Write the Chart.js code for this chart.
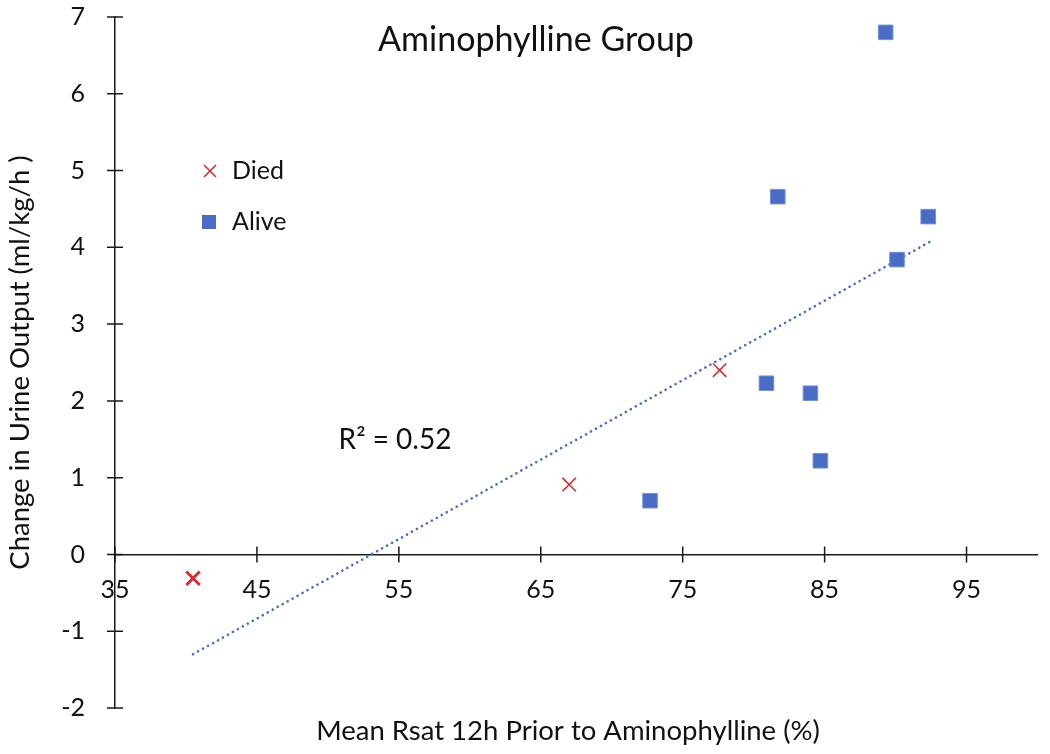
<!DOCTYPE html>
<html>
<head>
<meta charset="utf-8">
<script src="https://cdn.jsdelivr.net/npm/chart.js@4"></script>
<style>
html,body{margin:0;padding:0;background:#fff;}
#wrap{width:1050px;height:754px;}
</style>
</head>
<body>
<div id="wrap"><canvas id="myChart"></canvas></div>
<script>
//data
const diedX = [40.5, 67.0, 77.6];
const diedY = [-0.31, 0.91, 2.40];
const aliveX = [72.7, 80.9, 84.0, 84.7, 81.7, 89.3, 90.1, 92.3];
const aliveY = [0.70, 2.23, 2.10, 1.22, 4.66, 6.80, 3.84, 4.40];
const trendX = [40.5, 92.4];
const trendY = [-1.30, 4.07];
const xTicks = [35, 45, 55, 65, 75, 85, 95];
const yTicks = [-2, -1, 0, 1, 2, 3, 4, 5, 6, 7];

const RED = '#d0302f';
const BLUE = '#4a6cc4';
const FONT = 'Lato';

const toPoints = (xs, ys) => xs.map((v, i) => ({x: v, y: ys[i]}));

//setup
const data = {
  datasets: [
    {
      label: 'Died',
      data: toPoints(diedX, diedY),
      pointStyle: 'crossRot',
      pointRadius: 9.5,
      borderColor: RED,
      backgroundColor: RED,
      pointBorderWidth: ctx => ctx.dataIndex === 0 ? 3 : 1.6,
    },
    {
      label: 'Alive',
      data: toPoints(aliveX, aliveY),
      pointStyle: 'rect',
      pointRadius: 10.3,
      backgroundColor: BLUE,
      borderColor: '#7391d8',
      pointBorderWidth: 1,
    },
    {
      type: 'line',
      label: 'Trend',
      data: toPoints(trendX, trendY),
      borderColor: BLUE,
      borderWidth: 2.6,
      borderDash: [0.1, 5.6],
      borderCapStyle: 'round',
      pointRadius: 0,
      fill: false,
    }
  ]
};

// tick crosses on both axes, texts inside the plot, x title
const extras = {
  id: 'extras',
  afterDraw(chart) {
    const {ctx, scales: {x, y}} = chart;
    const y0 = y.getPixelForValue(0);
    const x0 = x.getPixelForValue(35);
    ctx.save();
    ctx.strokeStyle = '#1a1a1a';
    ctx.lineWidth = 1.5;
    ctx.beginPath();
    xTicks.forEach(v => {
      const px = x.getPixelForValue(v);
      ctx.moveTo(px, y0 - 8); ctx.lineTo(px, y0 + 8);
    });
    yTicks.forEach(v => {
      const py = y.getPixelForValue(v);
      ctx.moveTo(x0 - 8, py); ctx.lineTo(x0 + 8, py);
    });
    ctx.stroke();

    const L = chart.chartArea.left, T = chart.chartArea.top;
    ctx.fillStyle = '#111';
    ctx.textBaseline = 'middle';
    ctx.textAlign = 'center';
    ctx.font = '34px ' + FONT;
    ctx.fillText('Aminophylline Group', L + 421, T + 23);
    ctx.font = '28px ' + FONT;
    ctx.fillText('R² = 0.52', L + 280, T + 423);
    ctx.font = '27.5px ' + FONT;
    ctx.fillText('Mean Rsat 12h Prior to Aminophylline (%)', 568, 731);

    // legend
    ctx.textAlign = 'left';
    ctx.font = '25px ' + FONT;
    ctx.fillText('Died', L + 117, T + 154);
    ctx.fillText('Alive', L + 117, T + 205);
    ctx.strokeStyle = RED;
    ctx.lineWidth = 1.6;
    ctx.beginPath();
    ctx.moveTo(L + 89, T + 148); ctx.lineTo(L + 101, T + 160);
    ctx.moveTo(L + 101, T + 148); ctx.lineTo(L + 89, T + 160);
    ctx.stroke();
    ctx.fillStyle = BLUE;
    ctx.fillRect(L + 87, T + 198, 14, 14);
    ctx.restore();
  }
};

const noPad = s => { s.paddingTop = 0; s.paddingBottom = 0; s.paddingLeft = 0; s.paddingRight = 0; };

//options block
const options = {
  responsive: true,
  maintainAspectRatio: false,
  animation: false,
  layout: {padding: {top: 17, right: 7, bottom: 46, left: 0}},
  plugins: {
    legend: {display: false},
    tooltip: {enabled: false}
  },
  scales: {
    x: {
      type: 'linear',
      min: 35,
      max: 100,
      position: {y: 0},
      afterBuildTicks: s => { s.ticks = xTicks.map(v => ({value: v})); },
      afterFit: noPad,
      grid: {display: false},
      border: {display: true, color: '#1a1a1a', width: 1.5},
      ticks: {color: '#111', padding: 12, font: {family: FONT, size: 25}}
    },
    y: {
      type: 'linear',
      min: -2,
      max: 7,
      afterBuildTicks: s => { s.ticks = yTicks.map(v => ({value: v})); },
      afterFit: s => { s.width = 115; noPad(s); },
      grid: {display: false},
      border: {display: true, color: '#1a1a1a', width: 1.5},
      ticks: {color: '#111', padding: 22, font: {family: FONT, size: 25}},
      title: {
        display: true,
        text: 'Change in Urine Output (ml/kg/h )',
        color: '#111',
        padding: {top: 4, bottom: 0},
        font: {family: FONT, size: 27.5}
      }
    }
  }
};

//config
const config = {
  type: 'scatter',
  data,
  options,
  plugins: [extras]
};

//render
const myChart = new Chart(document.getElementById('myChart'), config);
</script>
</body>
</html>
